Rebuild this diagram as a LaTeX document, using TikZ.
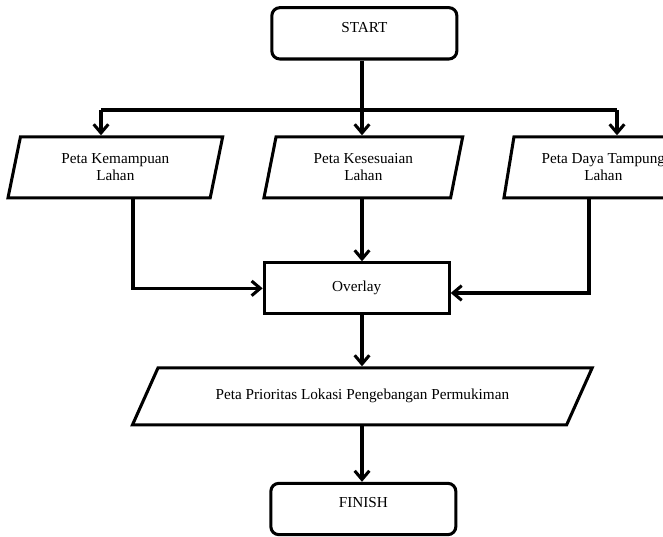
\documentclass[tikz,border=0pt]{standalone}
\usepackage{fontspec}
\setmainfont{Liberation Serif}
\usepackage{tikz}
\usetikzlibrary{arrows.meta,shapes.geometric}
\tikzset{
  >={Straight Barb[length=2.6mm,width=4.4mm]},
  txt/.style={font=\fontsize{13}{14.5}\selectfont,align=center},
  term/.style={txt,draw,line width=2.6pt,rounded corners=0.24cm,minimum width=5.55cm,minimum height=1.54cm,text height=0.32cm,text depth=0.39cm},
  proc/.style={txt,draw,line width=2.6pt,minimum width=5.55cm,minimum height=1.53cm},
  data/.style={txt,draw,line width=2.6pt,trapezium,trapezium stretches=true,trapezium left angle=#1,trapezium right angle=180-#1,inner sep=1pt},
  line/.style={line width=2.6pt},
  flow/.style={->,line width=2.6pt},
}

\begin{document}
\begin{tikzpicture}
  \clip (0,0) rectangle (19.89,16.11);
  \node[term] (start) at (10.93,15.11) {START};
  \coordinate (split) at (10.86,12.81);
  \coordinate (splitL) at (3.03,12.81);
  \coordinate (splitR) at (18.51,12.81);
  \node[data=76.2,minimum width=6.45cm,minimum height=1.83cm] (kemampuan) at (3.46,11.09) {Peta Kemampuan\\Lahan};
  \node[data=76.6,minimum width=5.97cm,minimum height=1.83cm] (kesesuaian) at (10.9,11.09) {Peta Kesesuaian\\Lahan};
  \node[data=76.6,minimum width=5.97cm,minimum height=1.83cm] (daya) at (18.1,11.09) {Peta Daya Tampung\\Lahan};
  \node[proc] (overlay) at (10.7,7.46) {Overlay};
  \node[data=41.2,minimum width=13.83cm,minimum height=1.71cm] (prioritas) at (10.87,4.22) {Peta Prioritas Lokasi Pengebangan Permukiman};
  \node[term] (finish) at (10.9,0.84) {FINISH};
  \draw[line] (start.south -| split) -- (split);
  \draw[line] (splitL) -- (splitR);
  \draw[flow] (splitL) -- (splitL |- kemampuan.north);
  \draw[flow] (split) -- (kesesuaian.north -| split);
  \draw[flow] (splitR) -- (splitR |- daya.north);
  \draw[flow] (kesesuaian.south -| split) -- (overlay.north -| split);
  \draw[flow] ([xshift=0.53cm]kemampuan.south) |- (overlay.west);
  \draw[flow] ([xshift=-0.43cm]daya.south) |- ([yshift=-0.14cm]overlay.east);
  \draw[flow] (overlay.south -| split) -- (prioritas.north -| split);
  \draw[flow] (prioritas.south -| split) -- (finish.north -| split);
\end{tikzpicture}
\end{document}
